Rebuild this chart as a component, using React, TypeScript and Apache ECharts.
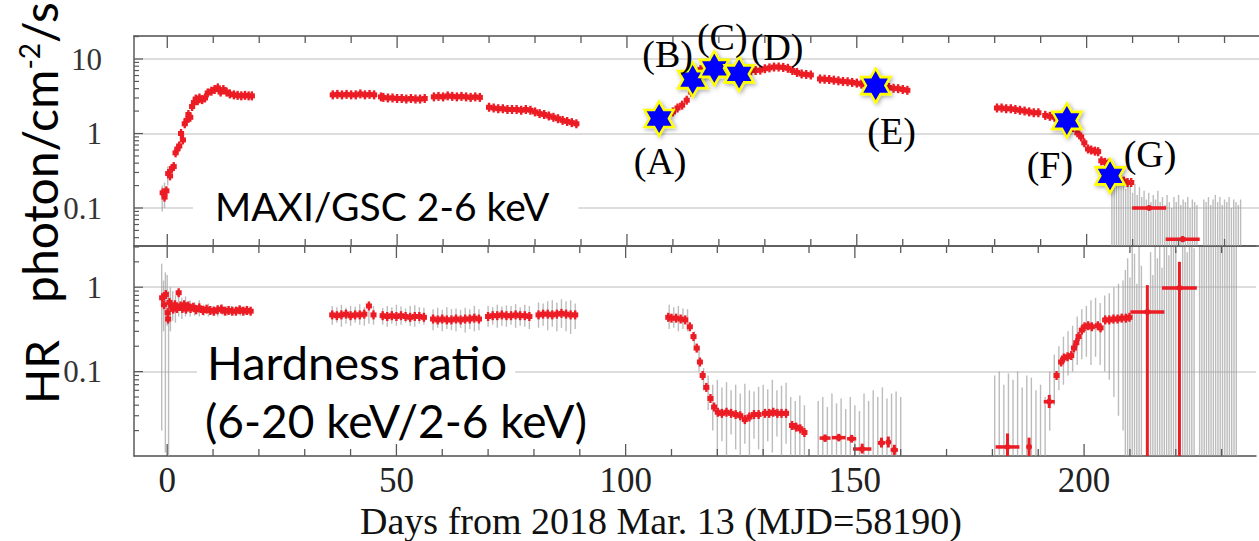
import React, { useEffect, useRef } from 'react';
import * as echarts from 'echarts';

// ---------- axes ----------
const DAY_MIN = -7.24;
const DAY_MAX = 237.5;
const FLUX_MIN = 0.0309;
const FLUX_MAX = 20.36;
const HR_MIN = 0.01;
const HR_MAX = 3.08;

const X_TICK_LABELS = ['0', '50', '100', '150', '200'];
const X_MAJOR_TICKS = [0, 50, 100, 150, 200];
const X_MINOR_TICKS = [10, 20, 30, 40, 60, 70, 80, 90, 110, 120, 130, 140, 160, 170, 180, 190, 210, 220, 230];
const FLUX_TICK_LABELS = ['0.1', '1', '10'];
const HR_TICK_LABELS = ['0.1', '1'];
const FLUX_MAJOR_TICKS = [0.1, 1, 10];
const FLUX_MINOR_TICKS = [0.04, 0.05, 0.06, 0.07, 0.08, 0.09, 0.2, 0.3, 0.4, 0.5, 0.6, 0.7, 0.8, 0.9, 2, 3, 4, 5, 6, 7, 8, 9, 20];
const HR_MAJOR_TICKS = [0.1, 1];
const HR_MINOR_TICKS = [0.02, 0.03, 0.04, 0.05, 0.06, 0.07, 0.08, 0.09, 0.2, 0.3, 0.4, 0.5, 0.6, 0.7, 0.8, 0.9, 2, 3];

// ---------- MAXI/GSC 2-6 keV flux: [day, flux] ----------
const FLUX_RISE: number[][] = [
  [-1.0, 0.16], [-0.6, 0.14], [-0.2, 0.17], [0.2, 0.29], [0.6, 0.27], [1.0, 0.34], [1.4, 0.36],
  [1.8, 0.55], [2.2, 0.62], [2.6, 0.68], [3.0, 1.0], [3.4, 0.82], [3.8, 1.35], [4.2, 1.5], [4.6, 1.8],
  [5.0, 1.65], [5.4, 2.3], [5.8, 2.6], [6.2, 2.9], [6.6, 2.75], [7.0, 3.0], [7.6, 2.85], [8.2, 3.0],
  [8.8, 3.5], [9.6, 3.7], [10.3, 3.9], [11.0, 4.1], [11.6, 3.6], [12.2, 3.9], [12.9, 3.6], [13.6, 3.4],
  [14.5, 3.3], [15.3, 3.25], [16.1, 3.2], [16.9, 3.25], [17.7, 3.2], [18.4, 3.2],
];
const FLUX_PLATEAU: number[][] = [
  [36, 3.3], [37, 3.35], [38, 3.3], [39, 3.35], [40, 3.3], [41, 3.3], [42, 3.4], [43, 3.3], [44, 3.35], [45, 3.3],
  [46.5, 3.1], [47, 3.05], [48, 3.0], [49, 3.0], [50, 2.95], [51, 2.95], [52, 2.9], [53, 2.95], [54, 2.9], [55, 2.9], [56, 2.95],
  [58, 3.1], [59, 3.15], [60, 3.1], [61, 3.2], [62, 3.15], [63, 3.1], [64, 3.15], [65, 3.1], [66, 3.05], [67, 3.1], [68, 3.05],
  [70, 2.25], [71, 2.2], [72, 2.15], [73, 2.15], [74, 2.1], [75, 2.1], [76, 2.1], [77, 2.05], [78, 2.1], [79, 2.05],
  [80, 1.95], [81, 1.85], [82, 1.8], [83, 1.72], [84, 1.65], [85, 1.58], [86, 1.5], [87, 1.45], [88, 1.4], [89, 1.35],
];
const FLUX_REBRIGHTENING: number[][] = [
  [107, 1.55], [108, 1.7], [109, 1.85], [110, 1.95], [111, 2.2], [112, 2.4], [113, 2.8], [114, 3.6], [115, 5.2],
  [116, 7.2], [117, 8.4], [118, 8.2], [119, 7.8], [120, 7.4], [121, 7.1], [122, 6.8], [123, 6.6], [124, 6.4],
  [125, 6.6], [126, 6.9], [127, 7.0], [128, 7.0], [129, 7.1], [130, 7.4], [131, 7.6], [132, 7.8], [133, 7.8],
  [134, 7.7], [135, 7.5], [136, 7.0], [137, 6.6], [138, 6.3], [139, 6.2], [140, 6.1],
  [142, 5.4], [143, 5.35], [144, 5.3], [145, 5.2], [146, 5.1], [147, 5.0], [148, 4.95], [149, 4.85], [150, 4.75],
  [151, 4.6], [152, 4.5], [153, 4.45], [155, 4.35], [156, 4.2], [157, 4.15], [158, 4.05], [159, 4.0], [160, 3.9], [161, 3.8],
];
const FLUX_DECAY: number[][] = [
  [180.5, 2.2], [181.5, 2.2], [182.5, 2.15], [183.5, 2.15], [184.5, 2.1], [185.5, 2.05], [186.5, 2.0], [187.5, 1.95],
  [188.5, 1.9], [189.5, 1.9], [191, 1.75], [192, 1.7], [193, 1.65], [194, 1.6], [195, 1.5], [196, 1.4], [197, 1.2],
  [198, 1.02], [198.8, 0.9], [199.5, 0.75], [200.3, 0.62], [201, 0.6], [201.8, 0.58], [202.5, 0.57], [203.2, 0.43],
  [204, 0.41], [204.8, 0.4], [205.6, 0.33], [206.5, 0.26], [207.3, 0.24], [208.1, 0.23], [208.9, 0.22], [209.7, 0.22],
];
// binned flux: [day, flux, halfWidth, low, high]
const FLUX_BINS: number[][] = [
  [213.6, 0.1, 3.7, 0.094, 0.107],
  [220.9, 0.038, 3.7, 0.035, 0.042],
];
// grey error bars (flux): [day, low, high]
const FLUX_GRAY: number[][] = [
  [-1.1, 0.09, 0.2], [-0.6, 0.1, 0.22], [0.1, 0.2, 0.36],
  [205.5, 0.02, 0.3], [206, 0.02, 0.24], [206.5, 0.02, 0.28], [207, 0.02, 0.2], [207.5, 0.02, 0.26], [208, 0.02, 0.22],
  [208.5, 0.02, 0.18], [209, 0.02, 0.25], [209.5, 0.02, 0.2], [210, 0.02, 0.16], [210.5, 0.02, 0.21], [211, 0.02, 0.15],
  [211.5, 0.02, 0.19], [212, 0.02, 0.14], [212.5, 0.02, 0.17], [213, 0.02, 0.13], [213.5, 0.02, 0.16], [214, 0.02, 0.12],
  [214.5, 0.02, 0.15], [215, 0.02, 0.13], [215.5, 0.02, 0.17], [216, 0.02, 0.12], [216.5, 0.02, 0.14], [217, 0.02, 0.11],
  [217.5, 0.02, 0.15], [218, 0.02, 0.12], [218.5, 0.02, 0.1], [219, 0.02, 0.14], [219.5, 0.02, 0.12], [220, 0.02, 0.15],
  [220.5, 0.02, 0.11], [221, 0.02, 0.13], [221.5, 0.02, 0.12], [222, 0.02, 0.14], [222.5, 0.02, 0.1], [223, 0.02, 0.13],
  [223.5, 0.02, 0.12], [224, 0.02, 0.11], [225.5, 0.02, 0.13], [226, 0.02, 0.12], [226.5, 0.02, 0.14], [227, 0.02, 0.11],
  [227.5, 0.02, 0.13], [228, 0.02, 0.15], [228.5, 0.02, 0.12], [229, 0.02, 0.14], [229.5, 0.02, 0.11], [230, 0.02, 0.13],
  [230.5, 0.02, 0.12], [231, 0.02, 0.14], [231.5, 0.02, 0.1], [232, 0.02, 0.13], [232.5, 0.02, 0.12], [233, 0.02, 0.11],
  [233.5, 0.02, 0.13],
];

// ---------- hardness ratio (6-20 keV / 2-6 keV): [day, HR] ----------
const HR_RISE: number[][] = [
  [-1.1, 0.75], [-0.7, 0.62], [-0.3, 0.82], [0.1, 0.5], [0.2, 0.42], [0.5, 0.66], [0.9, 0.58], [1.3, 0.55], [1.7, 0.62],
  [2.1, 0.56], [2.5, 0.86], [2.9, 0.6], [3.3, 0.56], [3.7, 0.62], [4.1, 0.55], [4.6, 0.6], [5.1, 0.56], [5.7, 0.58],
  [6.3, 0.54], [7.0, 0.57], [7.8, 0.53], [8.6, 0.55], [9.4, 0.53], [10.2, 0.52], [11.0, 0.54], [11.8, 0.55],
  [12.6, 0.52], [13.4, 0.53], [14.2, 0.52], [15.0, 0.52], [15.8, 0.54], [16.6, 0.52], [17.4, 0.53], [18.2, 0.52],
];
const HR_PLATEAU: number[][] = [
  [36, 0.47], [37, 0.46], [38, 0.47], [39, 0.48], [40, 0.46], [41, 0.47], [42, 0.47], [43, 0.48], [44, 0.6], [45, 0.47],
  [47, 0.46], [48, 0.45], [49, 0.46], [50, 0.45], [51, 0.46], [52, 0.45], [53, 0.44], [54, 0.45], [55, 0.45], [56, 0.44],
  [58, 0.42], [59, 0.41], [60, 0.42], [61, 0.41], [62, 0.41], [63, 0.42], [64, 0.41], [65, 0.42], [66, 0.42], [67, 0.43], [68, 0.42],
  [70, 0.45], [71, 0.46], [72, 0.46], [73, 0.47], [74, 0.46], [75, 0.46], [76, 0.47], [77, 0.46], [78, 0.46], [79, 0.45],
  [81, 0.47], [82, 0.48], [83, 0.48], [84, 0.47], [85, 0.48], [86, 0.49], [87, 0.48], [88, 0.47], [89, 0.47],
];
const HR_SOFTENING: number[][] = [
  [109.3, 0.44], [110, 0.43], [111, 0.43], [112, 0.42], [113, 0.41], [114, 0.34], [114.8, 0.26], [115.5, 0.19],
  [116.2, 0.13], [116.8, 0.09], [117.6, 0.065], [118.5, 0.048], [119.3, 0.038], [120.1, 0.033], [121, 0.032],
  [122, 0.033], [123, 0.032], [124, 0.031], [125, 0.03], [126, 0.027], [127, 0.029], [128, 0.031], [129, 0.031],
  [130.4, 0.032], [131.3, 0.032], [132.2, 0.033], [133.1, 0.032], [134, 0.032], [135, 0.032],
  [136.3, 0.023], [137.2, 0.022], [138.1, 0.021], [139, 0.019],
];
const HR_HARDENING: number[][] = [
  [194, 0.09], [195, 0.13], [195.6, 0.145], [196.4, 0.15], [197.2, 0.155], [197.8, 0.19], [198.3, 0.22], [198.8, 0.26],
  [199.5, 0.31], [200.1, 0.34], [200.9, 0.35], [201.7, 0.34], [203, 0.35], [203.6, 0.33], [204.6, 0.41], [205.5, 0.41],
  [206.4, 0.42], [207.3, 0.42], [208.2, 0.43], [209.1, 0.43], [209.9, 0.44],
];
// binned HR: [day, HR, halfWidth, low, high]
const HR_BINS: number[][] = [
  [143.5, 0.0163, 1.2, 0.0147, 0.018], [146.5, 0.0165, 1.5, 0.0149, 0.0183], [149.3, 0.016, 1, 0.0144, 0.0178],
  [151.6, 0.0121, 2, 0.0107, 0.014], [155.8, 0.0143, 0.8, 0.0126, 0.0165], [157.3, 0.0146, 0.5, 0.0126, 0.017],
  [158.6, 0.0118, 0.8, 0.0103, 0.0136],
  [183.3, 0.0128, 2.6, 0.005, 0.0185], [188, 0.0128, 0.3, 0.005, 0.0165],
  [192.4, 0.044, 1.2, 0.037, 0.053],
  [213.8, 0.51, 3.7, 0.001, 1.06], [220.8, 0.98, 3.8, 0.001, 2.0],
];
// grey error bars (HR): [day, low, high]
const HR_GRAY: number[][] = [
  [-1.2, 0.02, 1.9], [-0.8, 0.3, 1.2], [-0.4, 0.011, 1.5], [0, 0.35, 1.4], [0.3, 0.01, 0.9], [0.7, 0.3, 1.0],
  [1.2, 0.4, 0.9], [1.8, 0.38, 0.8], [2.5, 0.45, 0.95], [3.2, 0.42, 0.75], [4, 0.45, 0.78], [5, 0.45, 0.7],
  [6, 0.46, 0.66], [7, 0.45, 0.7], [8, 0.46, 0.62], [9, 0.45, 0.64], [10, 0.46, 0.6], [11, 0.45, 0.62],
  [12, 0.47, 0.63], [13, 0.46, 0.6], [14, 0.46, 0.6], [15, 0.47, 0.59], [16, 0.46, 0.6], [17, 0.47, 0.59],
  [36, 0.36, 0.6], [37, 0.38, 0.58], [38, 0.34, 0.62], [39, 0.37, 0.57], [40, 0.35, 0.6], [41, 0.38, 0.59],
  [42, 0.36, 0.63], [43, 0.35, 0.58], [44, 0.37, 0.66], [45, 0.36, 0.6],
  [47, 0.36, 0.57], [48, 0.34, 0.6], [49, 0.37, 0.58], [50, 0.35, 0.62], [51, 0.36, 0.59], [52, 0.38, 0.56],
  [53, 0.35, 0.6], [54, 0.34, 0.61], [55, 0.37, 0.58], [56, 0.36, 0.57],
  [58, 0.31, 0.55], [59, 0.33, 0.57], [60, 0.3, 0.54], [61, 0.32, 0.58], [62, 0.31, 0.55], [63, 0.3, 0.56],
  [64, 0.33, 0.54], [65, 0.29, 0.57], [66, 0.32, 0.55], [67, 0.3, 0.6], [68, 0.31, 0.55],
  [70, 0.34, 0.6], [71, 0.36, 0.58], [72, 0.33, 0.62], [73, 0.35, 0.59], [74, 0.34, 0.61], [75, 0.36, 0.6],
  [76, 0.33, 0.63], [77, 0.35, 0.58], [78, 0.34, 0.62], [79, 0.32, 0.6],
  [81, 0.33, 0.66], [82, 0.35, 0.64], [83, 0.31, 0.68], [84, 0.34, 0.7], [85, 0.3, 0.66], [86, 0.33, 0.72],
  [87, 0.3, 0.68], [88, 0.28, 0.7], [89, 0.32, 0.64],
  [109.5, 0.32, 0.62], [110.5, 0.33, 0.58], [111.5, 0.3, 0.6], [112.5, 0.32, 0.56], [113.5, 0.3, 0.55],
  [115, 0.18, 0.3], [116, 0.1, 0.2], [117, 0.06, 0.11], [118, 0.035, 0.09], [119, 0.02, 0.07],
  [120, 0.01, 0.08], [121, 0.015, 0.065], [122, 0.01, 0.075], [123, 0.018, 0.06], [124, 0.012, 0.07],
  [125, 0.01, 0.055], [126, 0.014, 0.072], [127, 0.01, 0.06], [128, 0.016, 0.058], [129, 0.012, 0.066],
  [130, 0.01, 0.07], [131, 0.015, 0.062], [132, 0.011, 0.08], [133, 0.017, 0.06], [134, 0.01, 0.068],
  [135, 0.014, 0.074], [136, 0.01, 0.05], [137, 0.01, 0.045], [138, 0.01, 0.052], [139, 0.01, 0.04],
  [142, 0.008, 0.045], [143, 0.008, 0.05], [144, 0.008, 0.038], [145, 0.008, 0.055], [146, 0.008, 0.042],
  [147, 0.008, 0.048], [148, 0.008, 0.036], [149, 0.008, 0.05], [150, 0.008, 0.04], [151, 0.008, 0.034],
  [152, 0.008, 0.055], [153, 0.008, 0.045], [154, 0.008, 0.06], [155, 0.008, 0.05], [156, 0.008, 0.065],
  [157, 0.008, 0.048], [158, 0.008, 0.055], [159, 0.008, 0.058], [160, 0.008, 0.05],
  [180.5, 0.008, 0.09], [181.5, 0.008, 0.1], [182.5, 0.008, 0.07], [183.5, 0.008, 0.095], [184.5, 0.008, 0.08],
  [185.5, 0.008, 0.1], [186.5, 0.008, 0.065], [187.5, 0.008, 0.09], [188.5, 0.008, 0.085], [189.5, 0.008, 0.06],
  [190.5, 0.008, 0.07],
  [191.5, 0.008, 0.05], [192.5, 0.02, 0.1], [193.5, 0.04, 0.16], [194.5, 0.06, 0.2], [195.5, 0.07, 0.26],
  [196.5, 0.09, 0.3], [197.5, 0.1, 0.35], [198.5, 0.12, 0.45], [199.5, 0.14, 0.55], [200.5, 0.15, 0.6],
  [201.5, 0.12, 0.7], [202.5, 0.15, 0.75], [203.5, 0.12, 0.65], [204.5, 0.1, 0.8], [205.5, 0.08, 0.85],
  [206.5, 0.05, 1.0], [207.5, 0.03, 1.1], [208.5, 0.02, 1.2], [209, 0.008, 1.6], [209.5, 0.008, 2.2],
  [210, 0.008, 1.3], [210.5, 0.008, 3.0], [211, 0.008, 2.5], [211.5, 0.008, 1.1], [212, 0.008, 3.0],
  [212.5, 0.008, 1.8], [214.5, 0.008, 2.6], [215, 0.008, 1.4], [215.5, 0.008, 3.0], [216, 0.008, 2.2],
  [216.5, 0.008, 3.0], [217, 0.008, 1.7], [217.5, 0.008, 3.0], [218, 0.008, 3.0], [218.5, 0.008, 2.4],
  [219, 0.008, 3.0], [219.5, 0.008, 3.0], [220, 0.008, 2.8], [221.5, 0.008, 3.0], [222, 0.008, 3.0],
  [222.5, 0.008, 2.6], [223, 0.008, 3.0], [223.5, 0.008, 3.0], [224, 0.008, 2.9],
  [225.2, 0.008, 3.0], [225.7, 0.008, 3.0], [226.2, 0.008, 3.0], [226.7, 0.008, 3.0], [227.2, 0.008, 3.0],
  [227.7, 0.008, 3.0], [228.2, 0.008, 3.0], [228.7, 0.008, 3.0], [229.2, 0.008, 3.0], [229.7, 0.008, 3.0],
  [230.2, 0.008, 3.0], [230.7, 0.008, 3.0], [231.2, 0.008, 3.0], [231.7, 0.008, 3.0], [232.2, 0.008, 3.0],
  [232.7, 0.008, 3.0], [233.2, 0.008, 3.0],
];

// ---------- marked epochs ----------
const STAR_LABELS = ['(A)', '(B)', '(C)', '(D)', '(E)', '(F)', '(G)'];
const STAR_DAYS = [107.0, 114.3, 119.0, 124.4, 154.1, 195.7, 205.1];
const STAR_FLUX = [1.59, 5.3, 7.5, 6.3, 4.4, 1.5, 0.27];

// label placement (layout only)
const STAR_LABEL_OFFSETS = [[1, 43], [-25, -26], [8, -31], [38, -27], [16, 45], [-17, 45], [40, -22]];

const RED = '#ec1c24';
const GRAY = 'rgba(160,160,160,0.7)';
const FRAME = '#5a5a5a';
const SERIF = '"Liberation Serif", "Times New Roman", serif';
const SANS = 'Lato, "Open Sans", sans-serif';
const STAR_PATH =
  'path://M100,0 L128.87,50 L186.6,50 L157.74,100 L186.6,150 L128.87,150 L100,200 L71.13,150 L13.4,150 L42.26,100 L13.4,50 L71.13,50 Z';

const fmtTick = (v: number) => (v >= 1 ? String(Math.round(v)) : String(+v.toPrecision(3)));

const clampY = (cs: any, y: number) => Math.max(cs.y, Math.min(cs.y + cs.height, y));

const pointRender = (params: any, api: any) => {
  const cs = params.coordSys;
  const d = api.value(0);
  const v = api.value(1);
  const p = api.coord([d, v]);
  if (p[1] < cs.y - 1 || p[1] > cs.y + cs.height + 1) return null;
  const l = api.coord([d - 0.5, v]);
  const r = api.coord([d + 0.5, v]);
  const w = r[0] - l[0] + 1.5;
  return {
    type: 'group',
    children: [
      { type: 'rect', shape: { x: p[0] - w / 2, y: p[1] - 2.5, width: w, height: 5 }, style: { fill: RED } },
      { type: 'rect', shape: { x: p[0] - 1.2, y: p[1] - 4.5, width: 2.4, height: 9 }, style: { fill: RED } },
    ],
  };
};

const binRender = (params: any, api: any) => {
  const cs = params.coordSys;
  const d = api.value(0);
  const v = api.value(1);
  const hw = api.value(2);
  const lo = api.value(3);
  const hi = api.value(4);
  const l = api.coord([d - hw, v]);
  const r = api.coord([d + hw, v]);
  const t = api.coord([d, hi]);
  const b = api.coord([d, lo]);
  const children: any[] = [];
  if (l[1] >= cs.y && l[1] <= cs.y + cs.height) {
    children.push({ type: 'line', shape: { x1: l[0], y1: l[1], x2: r[0], y2: r[1] }, style: { stroke: RED, lineWidth: 3.5 } });
    children.push({ type: 'circle', shape: { cx: l[0] + (r[0] - l[0]) / 2, cy: l[1], r: 3 }, style: { fill: RED } });
  }
  children.push({
    type: 'line',
    shape: { x1: t[0], y1: clampY(cs, t[1]), x2: b[0], y2: clampY(cs, b[1]) },
    style: { stroke: RED, lineWidth: 3 },
  });
  return { type: 'group', children };
};

const grayRender = (params: any, api: any) => {
  const cs = params.coordSys;
  const d = api.value(0);
  const lo = api.value(1);
  const hi = api.value(2);
  const t = api.coord([d, hi]);
  const b = api.coord([d, lo]);
  return {
    type: 'line',
    shape: { x1: t[0], y1: clampY(cs, t[1]), x2: b[0], y2: clampY(cs, b[1]) },
    style: { stroke: GRAY, lineWidth: 1.4 },
  };
};

const xTickRender = (params: any, api: any) => {
  const cs = params.coordSys;
  const x = api.coord([api.value(0), 1])[0];
  const len = api.value(2) ? 12 : 7;
  return {
    type: 'group',
    children: [
      { type: 'line', shape: { x1: x, y1: cs.y, x2: x, y2: cs.y + len }, style: { stroke: FRAME, lineWidth: 1.3 } },
      { type: 'line', shape: { x1: x, y1: cs.y + cs.height, x2: x, y2: cs.y + cs.height - len }, style: { stroke: FRAME, lineWidth: 1.3 } },
    ],
  };
};

const yTickRender = (params: any, api: any) => {
  const cs = params.coordSys;
  const y = api.coord([0, api.value(1)])[1];
  const len = api.value(2) ? 9 : 5;
  return { type: 'line', shape: { x1: cs.x, y1: y, x2: cs.x + len, y2: y }, style: { stroke: FRAME, lineWidth: 1.2 } };
};

const App: React.FC = () => {
  const ref = useRef<HTMLDivElement>(null);

  useEffect(() => {
    if (!ref.current) return;
    const chart = echarts.init(ref.current, undefined, { renderer: 'svg' });

    const xBase = (gridIndex: number, position: 'top' | 'bottom', labels: boolean) => ({
      type: 'value',
      gridIndex,
      position,
      min: DAY_MIN,
      max: DAY_MAX,
      splitNumber: 5,
      axisLine: { show: true, onZero: false, lineStyle: { color: FRAME, width: 1.5 } },
      axisTick: { show: false },
      splitLine: { show: false },
      axisLabel: labels
        ? {
            show: true,
            margin: 7,
            fontFamily: SERIF,
            fontSize: 35,
            color: '#222',
            formatter: (v: number) => (X_TICK_LABELS.includes(String(v)) ? String(v) : ''),
          }
        : { show: false },
    });

    const yBase = (gridIndex: number, min: number, max: number, labels: string[]) => ({
      type: 'log',
      logBase: 10,
      gridIndex,
      position: 'left',
      min,
      max,
      axisLine: { show: true, onZero: false, lineStyle: { color: FRAME, width: 1.5 } },
      axisTick: { show: false },
      splitLine: { show: true, lineStyle: { color: '#d2d2d2', width: 1.5 } },
      axisLabel: {
        margin: 32,
        fontFamily: SERIF,
        fontSize: 31,
        color: '#333',
        formatter: (v: number) => (labels.includes(fmtTick(v)) ? fmtTick(v) : ''),
      },
    });

    const xTickData = [
      ...X_MAJOR_TICKS.map((t) => [t, 1, 1]),
      ...X_MINOR_TICKS.map((t) => [t, 1, 0]),
    ];

    const option: any = {
      animation: false,
      backgroundColor: '#ffffff',
      grid: [
        { left: 134, top: 36, width: 1125, height: 210 },
        { left: 134, top: 246, width: 1125, height: 210 },
      ],
      xAxis: [xBase(0, 'bottom', false), xBase(0, 'top', false), xBase(1, 'bottom', true), xBase(1, 'top', false)],
      yAxis: [yBase(0, FLUX_MIN, FLUX_MAX, FLUX_TICK_LABELS), yBase(1, HR_MIN, HR_MAX, HR_TICK_LABELS)],
      series: [
        { type: 'custom', name: 'ticks-top', xAxisIndex: 0, yAxisIndex: 0, renderItem: xTickRender, data: xTickData, z: 5, silent: true },
        { type: 'custom', name: 'ticks-bottom', xAxisIndex: 2, yAxisIndex: 1, renderItem: xTickRender, data: xTickData, z: 5, silent: true },
        {
          type: 'custom', name: 'yticks-flux', xAxisIndex: 0, yAxisIndex: 0, renderItem: yTickRender, z: 5, silent: true,
          data: [...FLUX_MAJOR_TICKS.map((v) => [0, v, 1]), ...FLUX_MINOR_TICKS.map((v) => [0, v, 0])],
        },
        {
          type: 'custom', name: 'yticks-hr', xAxisIndex: 2, yAxisIndex: 1, renderItem: yTickRender, z: 5, silent: true,
          data: [...HR_MAJOR_TICKS.map((v) => [0, v, 1]), ...HR_MINOR_TICKS.map((v) => [0, v, 0])],
        },
        { type: 'custom', name: 'flux-err', xAxisIndex: 0, yAxisIndex: 0, renderItem: grayRender, data: FLUX_GRAY, z: 2 },
        { type: 'custom', name: 'hr-err', xAxisIndex: 2, yAxisIndex: 1, renderItem: grayRender, data: HR_GRAY, z: 2 },
        {
          type: 'custom', name: 'flux', xAxisIndex: 0, yAxisIndex: 0, renderItem: pointRender, z: 3,
          data: [...FLUX_RISE, ...FLUX_PLATEAU, ...FLUX_REBRIGHTENING, ...FLUX_DECAY],
        },
        { type: 'custom', name: 'flux-bins', xAxisIndex: 0, yAxisIndex: 0, renderItem: binRender, data: FLUX_BINS, z: 3 },
        {
          type: 'custom', name: 'hr', xAxisIndex: 2, yAxisIndex: 1, renderItem: pointRender, z: 3,
          data: [...HR_RISE, ...HR_PLATEAU, ...HR_SOFTENING, ...HR_HARDENING],
        },
        { type: 'custom', name: 'hr-bins', xAxisIndex: 2, yAxisIndex: 1, renderItem: binRender, data: HR_BINS, z: 3 },
        {
          type: 'scatter',
          name: 'epochs',
          xAxisIndex: 0,
          yAxisIndex: 0,
          z: 10,
          symbol: STAR_PATH,
          symbolSize: [29, 34],
          itemStyle: {
            color: '#0000ff',
            opacity: 1,
            borderColor: '#ffff00',
            borderWidth: 2.5,
            shadowBlur: 4,
            shadowColor: 'rgba(0,0,0,0.35)',
            shadowOffsetX: 1.5,
            shadowOffsetY: 1.5,
          },
          label: {
            show: true,
            position: 'inside',
            formatter: '{b}',
            fontFamily: SERIF,
            fontSize: 38,
            color: '#000',
            opacity: 1,
            textBorderWidth: 0,
            textShadowBlur: 0,
          },
          data: STAR_LABELS.map((name, i) => ({
            name,
            value: [STAR_DAYS[i], STAR_FLUX[i]],
            label: { offset: STAR_LABEL_OFFSETS[i] },
          })),
        },
      ],
      graphic: [
        {
          type: 'text',
          x: 63,
          y: 303,
          rotation: Math.PI / 2,
          z: 20,
          style: {
            text: 'photon/cm{sup|-2}/s',
            fontFamily: SANS,
            fontSize: 48,
            fill: '#000',
            align: 'left',
            verticalAlign: 'bottom',
            rich: {
              sup: { fontFamily: SANS, fontSize: 28, fill: '#000', verticalAlign: 'top' },
            },
          },
        },
        {
          type: 'text',
          x: 64,
          y: 372,
          rotation: Math.PI / 2,
          z: 20,
          style: { text: 'HR', fontFamily: SANS, fontSize: 46, fill: '#000', align: 'center', verticalAlign: 'bottom' },
        },
        {
          type: 'text',
          x: 193,
          y: 206,
          z: 20,
          style: {
            text: 'MAXI/GSC 2-6 keV',
            fontFamily: SANS,
            fontSize: 39,
            fill: '#000',
            align: 'left',
            verticalAlign: 'middle',
            backgroundColor: '#ffffff',
            padding: [4, 29, 4, 22],
          },
        },
        {
          type: 'text',
          x: 197,
          y: 362,
          z: 20,
          style: {
            text: 'Hardness ratio',
            fontFamily: SANS,
            fontSize: 47,
            fill: '#000',
            align: 'left',
            verticalAlign: 'middle',
            backgroundColor: '#ffffff',
            padding: [2, 8, 2, 10],
          },
        },
        {
          type: 'text',
          x: 205,
          y: 420,
          z: 20,
          style: {
            text: '(6-20 keV/2-6 keV)',
            fontFamily: SANS,
            fontSize: 46,
            fill: '#000',
            align: 'left',
            verticalAlign: 'middle',
          },
        },
        {
          type: 'text',
          x: 661,
          y: 521,
          z: 20,
          style: {
            text: 'Days from 2018 Mar. 13 (MJD=58190)',
            fontFamily: SERIF,
            fontSize: 38,
            fill: '#111',
            align: 'center',
            verticalAlign: 'middle',
          },
        },
      ],
    };

    chart.setOption(option);
    return () => chart.dispose();
  }, []);

  return (
    <div
      ref={ref}
      style={{ position: 'fixed', left: 0, top: 0, width: 1259, height: 541, background: '#fff' }}
    />
  );
};

export default App;
